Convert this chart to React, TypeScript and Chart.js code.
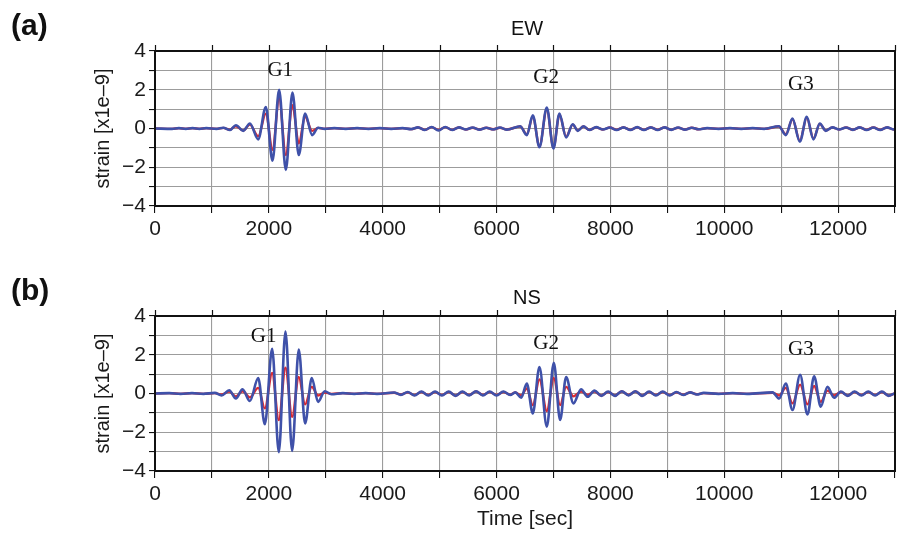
import React, { useEffect, useRef } from "react";
import { Chart, registerables } from "chart.js";

Chart.register(...registerables);

// ---- data ----
const ewTime = [
  0, 300, 420, 540, 660, 780, 900, 1080, 1200, 1316,
  1421, 1550, 1667, 1813, 1947, 2064, 2181, 2298, 2415, 2526,
  2637, 2760, 2865, 2980, 3150, 3350, 3550, 3750, 3950, 4150,
  4350, 4500, 4620, 4740, 4860, 4980, 5100, 5220, 5340, 5460,
  5580, 5700, 5820, 5940, 6060, 6180, 6415, 6532, 6637, 6754,
  6883, 7000, 7105, 7222, 7339, 7427, 7526, 7632, 7750, 7870,
  7990, 8110, 8230, 8350, 8470, 8590, 8710, 8830, 8950, 9070,
  9190, 9310, 9430, 9550, 9700, 9900, 10100, 10300, 10500, 10700,
  10960, 11082, 11199, 11328, 11450, 11567, 11679, 11784, 11900, 12020,
  12140, 12260, 12380, 12500, 12620, 12740, 12860, 12980, 13000,
];
const ewBlue = [
  0, -0.02, 0.02, -0.02, 0.02, -0.02, 0.02, -0.02, 0.04, -0.08,
  0.17, -0.12, 0.26, -0.56, 1.11, -1.66, 2.0, -2.14, 1.85, -1.37,
  0.77, -0.34, 0.04, -0.02, 0.02, -0.02, 0.02, -0.02, 0.02, -0.02,
  0.02, -0.03, 0.06, -0.08, 0.08, -0.1, 0.08, -0.08, 0.06, -0.05,
  0.05, -0.06, 0.04, -0.05, 0.05, -0.06, 0.12, -0.34, 0.68, -0.97,
  1.08, -1.03, 0.77, -0.46, 0.22, -0.12, 0.12, -0.08, 0.07, -0.05,
  0.05, -0.08, 0.06, -0.08, 0.07, -0.08, 0.06, -0.08, 0.06, -0.07,
  0.05, -0.06, 0.04, -0.04, 0.02, -0.02, 0.02, -0.02, 0.02, -0.02,
  0.12, -0.34, 0.51, -0.68, 0.6, -0.56, 0.26, -0.12, 0.06, -0.05,
  0.05, -0.07, 0.06, -0.08, 0.05, -0.08, 0.06, -0.05, -0.04,
];
const ewRed = [
  0, -0.02, 0.02, -0.02, 0.02, -0.02, 0.02, -0.02, 0.03, -0.06,
  0.12, -0.1, 0.2, -0.4, 0.77, -1.1, 1.54, -1.37, 1.2, -0.77,
  0.6, -0.12, 0.03, -0.02, 0.02, -0.02, 0.02, -0.02, 0.02, -0.02,
  0.02, -0.03, 0.05, -0.07, 0.07, -0.08, 0.07, -0.07, 0.05, -0.05,
  0.04, -0.05, 0.04, -0.04, 0.04, -0.05, 0.1, -0.3, 0.62, -0.92,
  1.0, -0.98, 0.72, -0.42, 0.2, -0.1, 0.1, -0.07, 0.06, -0.05,
  0.05, -0.07, 0.05, -0.07, 0.06, -0.07, 0.05, -0.07, 0.05, -0.06,
  0.04, -0.05, 0.04, -0.04, 0.02, -0.02, 0.02, -0.02, 0.02, -0.02,
  0.1, -0.3, 0.48, -0.64, 0.56, -0.52, 0.24, -0.1, 0.05, -0.05,
  0.05, -0.06, 0.05, -0.07, 0.05, -0.07, 0.05, -0.05, -0.04,
];

const nsTime = [
  0, 250, 450, 650, 850, 1050, 1170, 1304, 1421, 1538,
  1667, 1813, 1930, 2058, 2175, 2292, 2409, 2526, 2637, 2754,
  2865, 2982, 3100, 3300, 3500, 3700, 3900, 4200, 4320, 4440,
  4560, 4680, 4800, 4920, 5040, 5160, 5280, 5400, 5520, 5640,
  5760, 5880, 6000, 6120, 6240, 6330, 6433, 6532, 6637, 6754,
  6883, 7006, 7117, 7222, 7351, 7485, 7602, 7720, 7840, 7960,
  8080, 8200, 8320, 8440, 8560, 8680, 8800, 8920, 9040, 9160,
  9280, 9400, 9520, 9640, 9900, 10150, 10400, 10850, 10965, 11082,
  11199, 11333, 11462, 11579, 11696, 11813, 11930, 12050, 12170, 12290,
  12410, 12530, 12650, 12770, 12890, 13000,
];
const nsBlue = [
  0, 0.02, -0.02, 0.02, -0.02, 0.03, -0.1, 0.17, -0.26, 0.22,
  -0.39, 0.8, -1.59, 2.31, -3.03, 3.2, -2.96, 2.27, -1.54, 0.8,
  -0.43, 0.12, -0.04, 0.02, -0.02, 0.02, -0.02, 0.05, -0.07, 0.08,
  -0.1, 0.1, -0.1, 0.1, -0.1, 0.1, -0.12, 0.1, -0.1, 0.12,
  -0.1, 0.1, -0.1, 0.1, -0.08, 0.06, -0.22, 0.51, -1.03, 1.37,
  -1.71, 1.59, -1.37, 0.85, -0.51, 0.22, -0.17, 0.15, -0.12, 0.1,
  -0.12, 0.12, -0.1, 0.12, -0.12, 0.1, -0.1, 0.1, -0.1, 0.08,
  -0.08, 0.06, -0.05, 0.03, -0.02, 0.02, -0.02, 0.06, -0.26, 0.51,
  -0.85, 0.97, -1.08, 0.89, -0.68, 0.34, -0.22, 0.1, -0.12, 0.1,
  -0.1, 0.1, -0.1, 0.1, -0.12, 0.02,
];
const nsRed = [
  0, 0.02, -0.02, 0.02, -0.02, 0.02, -0.05, 0.1, -0.15, 0.12,
  -0.2, 0.29, -0.77, 1.06, -1.37, 1.33, -1.2, 0.85, -0.56, 0.34,
  -0.1, 0.05, -0.02, 0.02, -0.02, 0.02, -0.02, 0.04, -0.05, 0.06,
  -0.08, 0.08, -0.08, 0.08, -0.08, 0.08, -0.1, 0.08, -0.08, 0.1,
  -0.08, 0.08, -0.08, 0.08, -0.06, 0.05, -0.1, 0.26, -0.6, 0.73,
  -0.9, 0.8, -0.6, 0.34, -0.15, 0.1, -0.08, 0.1, -0.1, 0.08,
  -0.1, 0.1, -0.08, 0.1, -0.1, 0.08, -0.08, 0.08, -0.08, 0.06,
  -0.06, 0.05, -0.04, 0.02, -0.02, 0.02, -0.02, 0.04, -0.1, 0.29,
  -0.51, 0.46, -0.56, 0.39, -0.43, 0.15, -0.1, 0.08, -0.1, 0.08,
  -0.08, 0.08, -0.08, 0.08, -0.1, 0.02,
];

const phaseNames = ["G1", "G2", "G3"];
const ewPhaseTime = [2200, 6872, 11345];
const ewPhaseValue = [2.98, 2.63, 2.29];
const nsPhaseTime = [1907, 6872, 11345];
const nsPhaseValue = [2.95, 2.56, 2.29];

const timeMin = 0;
const timeMax = 13000;
const timeStep = 1000;
const timeLabelStep = 2000;
const strainMin = -4;
const strainMax = 4;
const strainStep = 1;
const strainLabelStep = 2;

const SANS = "'Liberation Sans', Arial, Helvetica, sans-serif";
const SERIF = "'Liberation Serif', 'Times New Roman', serif";
const BLUE = "#3f51a9";
const RED = "#dc2a32";

type PanelProps = {
  top: number;
  height: number;
  times: number[];
  blue: number[];
  red: number[];
  panelLabel: string;
  title: string;
  phaseTime: number[];
  phaseValue: number[];
  showXTitle: boolean;
  titleGap: number;
};

function Panel(p: PanelProps) {
  const ref = useRef<HTMLCanvasElement>(null);
  useEffect(() => {
    const canvas = ref.current;
    if (!canvas) return;
    const pts = (vals: number[]) => p.times.map((t, i) => ({ x: t, y: vals[i] }));

    const overlay = {
      id: "overlay",
      afterDatasetsDraw(chart: any) {
        const { ctx, scales } = chart;
        ctx.save();
        ctx.fillStyle = "#111";
        ctx.font = `21px ${SERIF}`;
        ctx.textAlign = "center";
        ctx.textBaseline = "middle";
        phaseNames.forEach((n, i) => {
          ctx.fillText(n, scales.x.getPixelForValue(p.phaseTime[i]), scales.y.getPixelForValue(p.phaseValue[i]));
        });
        ctx.restore();
      },
      afterDraw(chart: any) {
        const { ctx, chartArea: ca, scales } = chart;
        ctx.save();
        ctx.strokeStyle = "#111";
        ctx.lineWidth = 2;
        ctx.strokeRect(ca.left, ca.top, ca.right - ca.left, ca.bottom - ca.top);
        ctx.lineWidth = 1.2;
        scales.x.ticks.forEach((t: any) => {
          const px = Math.round(scales.x.getPixelForValue(t.value)) + 0.5;
          ctx.beginPath();
          ctx.moveTo(px, ca.top);
          ctx.lineTo(px, ca.top - 6);
          ctx.stroke();
        });
        ctx.fillStyle = "#111";
        ctx.font = `20px ${SANS}`;
        ctx.textAlign = "center";
        ctx.textBaseline = "middle";
        ctx.fillText(p.title, (ca.left + ca.right) / 2 + 2, ca.top - p.titleGap);
        ctx.font = `bold 30px ${SANS}`;
        ctx.textAlign = "left";
        ctx.fillText(p.panelLabel, 11, ca.top - 24);
        ctx.restore();
      },
    };

    const chart = new Chart(canvas, {
      type: "line",
      data: {
        datasets: [
          {
            data: pts(p.blue),
            borderColor: BLUE,
            borderWidth: 2.6,
            pointRadius: 0,
            cubicInterpolationMode: "monotone",
            fill: false,
          },
          {
            data: pts(p.red),
            borderColor: RED,
            borderWidth: 2.4,
            pointRadius: 0,
            cubicInterpolationMode: "monotone",
            fill: false,
          },
        ],
      },
      options: {
        responsive: false,
        animation: false,
        devicePixelRatio: 1,
        parsing: false as any,
        layout: { padding: { left: 80, right: 3, top: 51, bottom: 0 } },
        plugins: {
          legend: { display: false },
          tooltip: { enabled: false },
          title: { display: false },
        },
        scales: {
          x: {
            type: "linear",
            min: timeMin,
            max: timeMax,
            ticks: {
              stepSize: timeStep,
              autoSkip: false,
              maxRotation: 0,
              padding: 4,
              color: "#1a1a1a",
              font: { family: SANS, size: 21 },
              callback: (v: any) => (Number(v) % timeLabelStep === 0 ? String(v) : ""),
            },
            grid: { color: "#9c9c9c", lineWidth: 1.1, tickLength: 7, tickColor: "#111", drawTicks: true },
            border: { display: false },
            title: {
              display: p.showXTitle,
              text: "Time [sec]",
              color: "#1a1a1a",
              font: { family: SANS, size: 21 },
              padding: { top: 0, bottom: 6 },
            },
            afterFit: (s: any) => {
              s.height = p.height - 206;
            },
          } as any,
          y: {
            type: "linear",
            min: strainMin,
            max: strainMax,
            ticks: {
              stepSize: strainStep,
              autoSkip: false,
              padding: 3,
              color: "#1a1a1a",
              font: { family: SANS, size: 21 },
              callback: (v: any) =>
                Number(v) % strainLabelStep === 0 ? String(v).replace("-", "\u2212") : "",
            },
            grid: { color: "#9c9c9c", lineWidth: 1.1, tickLength: 6, tickColor: "#111", drawTicks: true },
            border: { display: false },
            title: {
              display: true,
              text: "strain [x1e\u20139]",
              color: "#1a1a1a",
              font: { family: SANS, size: 20 },
              padding: { top: 11, bottom: 0 },
            },
            afterFit: (s: any) => {
              s.width = 75;
            },
          } as any,
        },
      },
      plugins: [overlay],
    });
    return () => chart.destroy();
  }, []);
  return (
    <canvas
      ref={ref}
      width={899}
      height={p.height}
      style={{ position: "absolute", left: 0, top: p.top, width: 899, height: p.height }}
    />
  );
}

export default function App() {
  return (
    <div style={{ position: "fixed", left: 0, top: 0, width: 899, height: 538, background: "#fff", overflow: "hidden" }}>
      <Panel
        top={0}
        height={250}
        times={ewTime}
        blue={ewBlue}
        red={ewRed}
        panelLabel="(a)"
        title="EW"
        phaseTime={ewPhaseTime}
        phaseValue={ewPhaseValue}
        showXTitle={false}
        titleGap={22}
      />
      <Panel
        top={265}
        height={273}
        times={nsTime}
        blue={nsBlue}
        red={nsRed}
        panelLabel="(b)"
        title="NS"
        phaseTime={nsPhaseTime}
        phaseValue={nsPhaseValue}
        showXTitle={true}
        titleGap={18}
      />
    </div>
  );
}
